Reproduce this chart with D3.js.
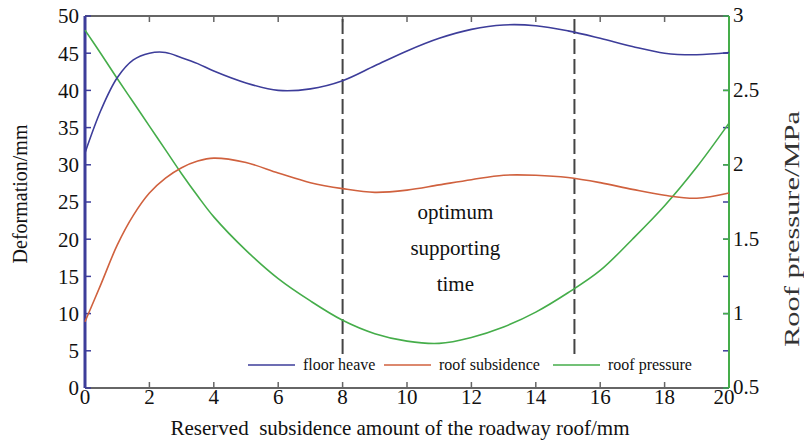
<!DOCTYPE html>
<html lang="en">
<head>
<meta charset="UTF-8">
<title>Roof subsidence chart</title>
<script src="https://d3js.org/d3.v7.min.js"></script>
<style>
  body { margin: 0; background: #fff; }
  text { font-family: "Liberation Serif", "Times New Roman", serif; fill: #111; }
</style>
</head>
<body>
<svg id="chart" width="804" height="445"></svg>
<script>
// reserved subsidence amount (mm)
var xVals = [0, 0.5, 1, 1.5, 2, 2.5, 3, 3.5, 4, 5, 6, 7, 8, 9, 10, 11, 12, 13, 14, 15, 16, 17, 18, 19, 20];
// deformation (mm), left axis
var floorHeave = [31.6, 37.4, 41.7, 44.1, 45.0, 45.1, 44.4, 43.6, 42.6, 41.0, 40.0, 40.2, 41.3, 43.3, 45.3, 47.0, 48.2, 48.8, 48.7, 48.0, 47.0, 45.9, 45.0, 44.8, 45.1];
var roofSubsidence = [8.9, 14.0, 19.2, 23.2, 26.2, 28.2, 29.6, 30.5, 30.9, 30.3, 28.9, 27.6, 26.8, 26.3, 26.6, 27.3, 28.0, 28.6, 28.6, 28.3, 27.6, 26.7, 25.9, 25.5, 26.2];
// roof pressure (MPa), right axis
var roofPressure = [2.905, 2.745, 2.58, 2.42, 2.26, 2.10, 1.94, 1.79, 1.65, 1.425, 1.235, 1.085, 0.955, 0.865, 0.815, 0.80, 0.84, 0.91, 1.01, 1.14, 1.29, 1.50, 1.725, 1.985, 2.28];

var xTicks = [0, 2, 4, 6, 8, 10, 12, 14, 16, 18, 20];
var leftTicks = [0, 5, 10, 15, 20, 25, 30, 35, 40, 45, 50];
var rightTicks = [0.5, 1, 1.5, 2, 2.5, 3];
var optimumBounds = [8, 15.2];
var noteLines = ["optimum", "supporting", "time"];
var seriesNames = ["floor heave", "roof subsidence", "roof pressure"];

var blue = "#3d3d9a", red = "#d0613e", green = "#45ad4a", frame = "#666";

var svg = d3.select("#chart");
var x = d3.scaleLinear().domain([0, 20]).range([85, 729]);
var yL = d3.scaleLinear().domain([0, 50]).range([388, 16]);
var yR = d3.scaleLinear().domain([0.5, 3]).range([388, 16]);

// top and bottom frame with inward ticks
svg.append("line").attr("x1", 85).attr("x2", 729).attr("y1", 16).attr("y2", 16)
  .attr("stroke", frame).attr("stroke-width", 2);
svg.append("line").attr("x1", 85).attr("x2", 729).attr("y1", 388).attr("y2", 388)
  .attr("stroke", frame).attr("stroke-width", 2);

xTicks.forEach(function(t) {
  svg.append("line").attr("x1", x(t)).attr("x2", x(t)).attr("y1", 388).attr("y2", 382)
    .attr("stroke", frame).attr("stroke-width", 1.5);
  svg.append("line").attr("x1", x(t)).attr("x2", x(t)).attr("y1", 16).attr("y2", 22)
    .attr("stroke", frame).attr("stroke-width", 1.5);
  svg.append("text").attr("x", x(t) - (t === 20 ? 5 : 0)).attr("y", 404).attr("text-anchor", "middle")
    .style("font-size", "21px").text(t);
});

// left axis
svg.append("line").attr("x1", 85).attr("x2", 85).attr("y1", 16).attr("y2", 388)
  .attr("stroke", blue).attr("stroke-width", 3);
leftTicks.forEach(function(t) {
  svg.append("line").attr("x1", 85).attr("x2", 91).attr("y1", yL(t)).attr("y2", yL(t))
    .attr("stroke", blue).attr("stroke-width", 1.5);
  // mirrored on the right side
  svg.append("line").attr("x1", 729).attr("x2", 723).attr("y1", yL(t)).attr("y2", yL(t))
    .attr("stroke", blue).attr("stroke-width", 1.5);
  svg.append("text").attr("x", 79).attr("y", yL(t)).attr("dy", "0.35em")
    .attr("text-anchor", "end").style("font-size", "21px").text(t);
});

// right axis
svg.append("line").attr("x1", 729).attr("x2", 729).attr("y1", 16).attr("y2", 388)
  .attr("stroke", green).attr("stroke-width", 2);
rightTicks.forEach(function(t) {
  svg.append("line").attr("x1", 729).attr("x2", 723).attr("y1", yR(t)).attr("y2", yR(t))
    .attr("stroke", green).attr("stroke-width", 1.5);
  svg.append("text").attr("x", 733).attr("y", yR(t)).attr("dy", "0.3em")
    .style("font-size", "21px").text(t);
});

// optimum window
optimumBounds.forEach(function(b) {
  svg.append("line").attr("x1", x(b)).attr("x2", x(b)).attr("y1", 19).attr("y2", 355)
    .attr("stroke", "#444").attr("stroke-width", 2).attr("stroke-dasharray", "15,5");
});
var noteX = x(11.5);
noteLines.forEach(function(s, i) {
  svg.append("text").attr("x", noteX).attr("y", 219 + i * 36).attr("text-anchor", "middle")
    .style("font-size", "21px").text(s);
});

// curves
function lineFor(scale, vals) {
  return d3.line()
    .x(function(d, i) { return x(xVals[i]); })
    .y(function(d) { return scale(d); })
    .curve(d3.curveCatmullRom.alpha(0.5))(vals);
}
svg.append("path").attr("d", lineFor(yR, roofPressure)).attr("fill", "none")
  .attr("stroke", green).attr("stroke-width", 1.6);
svg.append("path").attr("d", lineFor(yL, roofSubsidence)).attr("fill", "none")
  .attr("stroke", red).attr("stroke-width", 1.6);
svg.append("path").attr("d", lineFor(yL, floorHeave)).attr("fill", "none")
  .attr("stroke", blue).attr("stroke-width", 1.6);

// legend
var legendX = [248, 384, 553];
var legendColors = [blue, red, green];
seriesNames.forEach(function(name, i) {
  svg.append("line").attr("x1", legendX[i]).attr("x2", legendX[i] + 47)
    .attr("y1", 365).attr("y2", 365).attr("stroke", legendColors[i]).attr("stroke-width", 1.6);
  svg.append("text").attr("x", legendX[i] + 55).attr("y", 370)
    .style("font-size", "16px").text(name);
});

// axis titles
svg.append("text").attr("transform", "translate(27,194) rotate(-90)")
  .attr("text-anchor", "middle").style("font-size", "20px").text("Deformation/mm");
svg.append("text").attr("transform", "translate(799,229) rotate(-90)")
  .attr("text-anchor", "middle").style("font-size", "20px").style("fill", "#333")
  .attr("textLength", 236).attr("lengthAdjust", "spacingAndGlyphs").text("Roof pressure/MPa");
svg.append("text").attr("x", 400).attr("y", 435).attr("text-anchor", "middle")
  .style("font-size", "21px").style("white-space", "pre")
  .text("Reserved  subsidence amount of the roadway roof/mm");
</script>
</body>
</html>
